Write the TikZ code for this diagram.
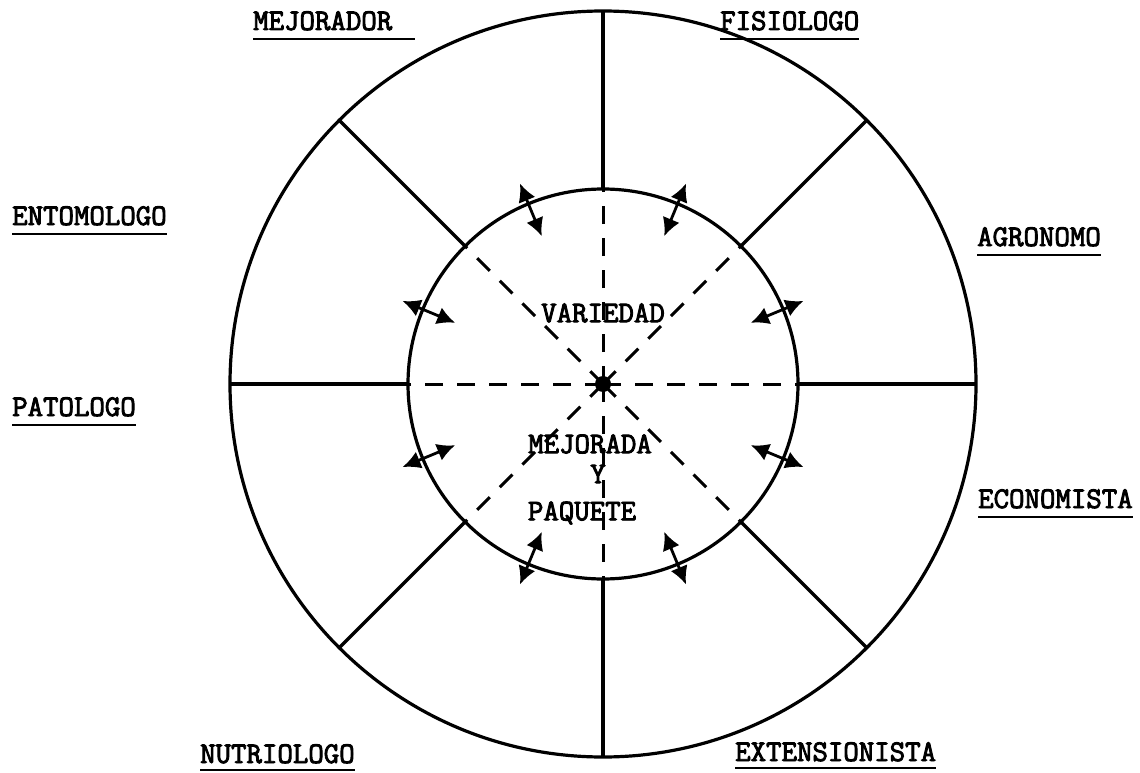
\documentclass[tikz,border=0pt]{standalone}
\usepackage{fontspec}
\newfontfamily\tw{Latin Modern Mono}[FakeBold=3]
\usetikzlibrary{arrows.meta}
\tikzset{
  lbl/.style={font=\tw\fontsize{30}{34}\selectfont, inner sep=0pt, anchor=base west},
  ctext/.style={font=\tw\fontsize{30}{34}\selectfont, inner sep=0pt},
  ring/.style={line width=3.2pt},
  spoke/.style={line width=3.2pt},
  dsh/.style={line width=3pt, dash pattern=on 18pt off 14pt},
  dbl/.style={line width=2.8pt, {Latex[length=18pt,width=18pt]}-{Latex[length=18pt,width=18pt]}},
  uline/.style={line width=2.2pt}
}
\begin{document}
\begin{tikzpicture}[x=1pt,y=-1pt]
\useasboundingbox (0,0) rectangle (1140,773);
\coordinate (O) at (603,384);
% circles
\draw[ring] (O) circle[radius=373pt];
\draw[ring] (O) circle[radius=195pt];
% spokes and dashed lines
\foreach \a in {0,45,...,315}{
  \coordinate (in\a) at ([shift={(\a:195)}]O);
  \coordinate (out\a) at ([shift={(\a:373)}]O);
  \draw[spoke] (in\a) -- (out\a);
  \draw[dsh] (O) -- (in\a);
}
% center dot
\fill (O) circle[radius=8pt];
% double arrows
\foreach \k in {0,...,7}{
  \pgfmathsetmacro{\ang}{22.5+45*\k}
  \coordinate (p\k) at ([shift={(\ang:160)}]O);
  \coordinate (q\k) at ([shift={(\ang:217)}]O);
  \draw[dbl] (p\k) -- (q\k);
}
% centre text
\node[ctext] (t1) at (603,313) {VARIEDAD};
\node[ctext] (t2) at (590,444) {MEJORADA};
\node[ctext] (t3) at (598,474) {Y};
\node[ctext] (t4) at (582,513) {PAQUETE};
% labels
\node[lbl] (l1) at (253,30) {MEJORADOR};
\draw[uline] ([yshift=-9pt]l1.base west) -- ++(162,0);
\node[lbl] (l2) at (720,30) {FISIOLOGO};
\draw[uline] ([yshift=-9pt]l2.base west) -- ([yshift=-9pt]l2.base east);
\node[lbl] (l3) at (977,246) {AGRONOMO};
\draw[uline] ([yshift=-9pt]l3.base west) -- ([yshift=-9pt]l3.base east);
\node[lbl] (l4) at (12,225) {ENTOMOLOGO};
\draw[uline] ([yshift=-9pt]l4.base west) -- ([yshift=-9pt]l4.base east);
\node[lbl] (l5) at (12,416) {PATOLOGO};
\draw[uline] ([yshift=-9pt]l5.base west) -- ([yshift=-9pt]l5.base east);
\node[lbl] (l6) at (978,508) {ECONOMISTA};
\draw[uline] ([yshift=-9pt]l6.base west) -- ([yshift=-9pt]l6.base east);
\node[lbl] (l7) at (200,763) {NUTRIOLOGO};
\draw[uline] ([yshift=-7pt]l7.base west) -- ([yshift=-7pt]l7.base east);
\node[lbl] (l8) at (735,761) {EXTENSIONISTA};
\draw[uline] ([yshift=-7pt]l8.base west) -- ([yshift=-7pt]l8.base east);
\end{tikzpicture}
\end{document}
